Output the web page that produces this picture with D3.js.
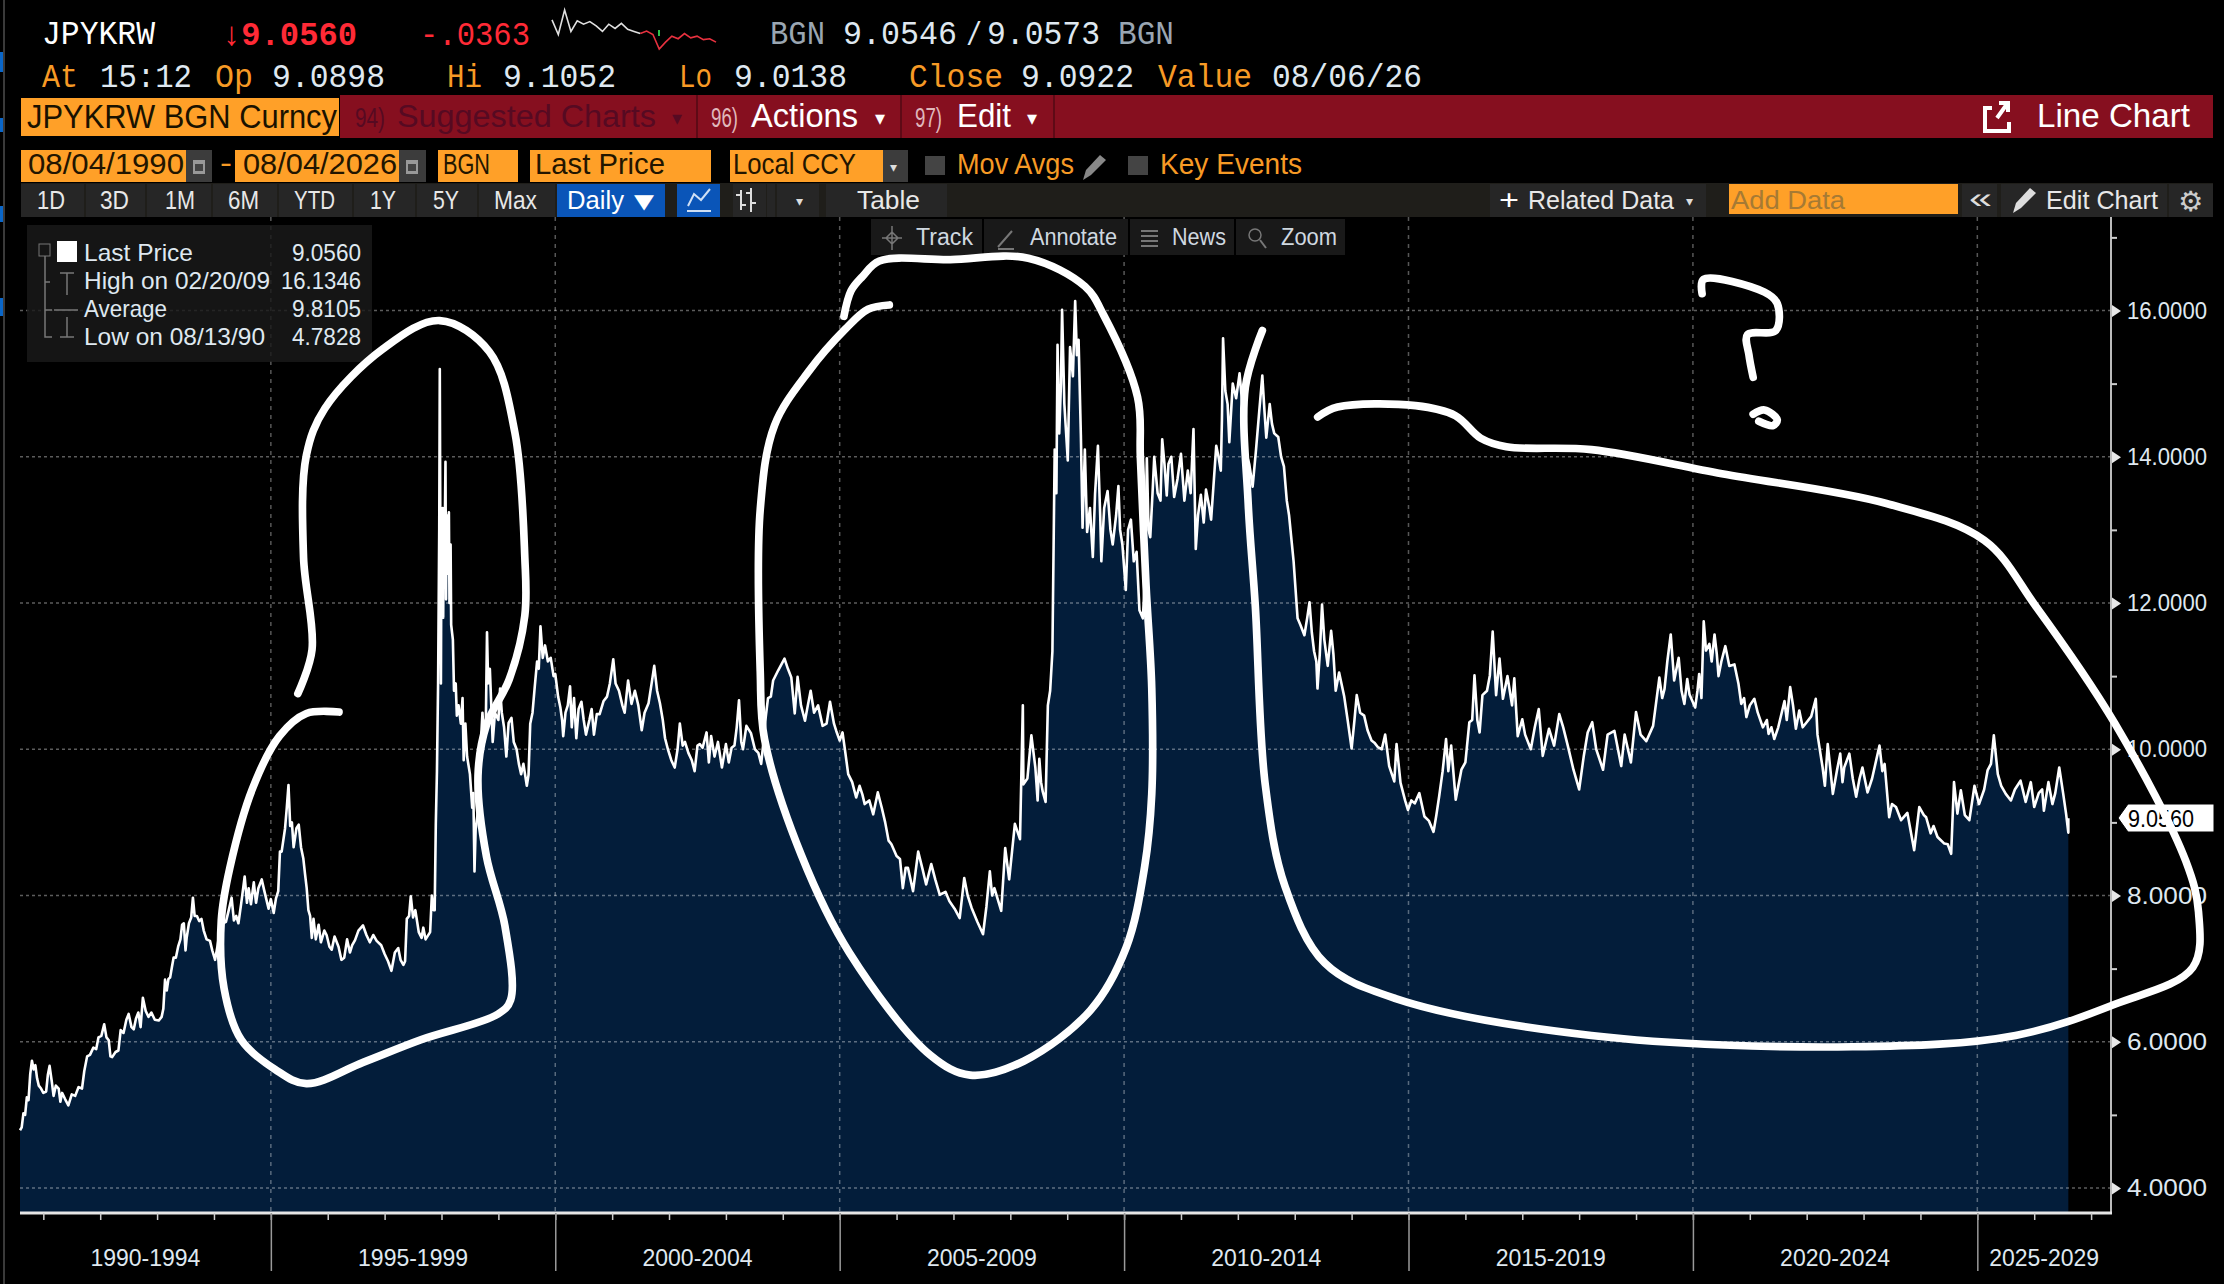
<!DOCTYPE html>
<html lang="en">
	<head>
		<meta charset="utf-8">
		<title>JPYKRW Line Chart</title>
		<style>
			html, body { margin: 0; padding: 0; background: #000; }
			svg { display: block; }
			text { white-space: pre; }
		</style>
	</head>
	<body>
		<svg id="graph" width="2224" height="1284"></svg>

		<script src="https://d3js.org/d3.v7.min.js"></script>
		<script>
			"use strict";

			// JPYKRW last price, [decimal year, rate]
			var rates1990s = [
				[1990.59,4.79],[1990.62,4.83],[1990.65,5.02],[1990.68,5.00],[1990.71,5.24],[1990.74,5.20],[1990.77,5.56],[1990.80,5.74],[1990.83,5.62],[1990.86,5.68],[1990.89,5.50],[1990.92,5.40],[1990.96,5.36],[1991.00,5.30],[1991.05,5.32],[1991.08,5.55],[1991.11,5.67],[1991.15,5.45],[1991.18,5.26],[1991.22,5.40],[1991.27,5.36],[1991.30,5.18],[1991.33,5.30],[1991.38,5.22],[1991.44,5.13],[1991.50,5.28],[1991.56,5.26],[1991.62,5.38],[1991.68,5.36],[1991.72,5.60],[1991.77,5.80],[1991.82,5.82],[1991.88,5.92],[1991.93,5.90],[1991.97,6.06],[1992.02,6.08],[1992.07,6.24],[1992.11,6.06],[1992.15,6.02],[1992.18,5.80],[1992.21,5.79],[1992.27,5.86],[1992.32,5.88],[1992.36,6.16],[1992.41,6.12],[1992.46,6.30],[1992.50,6.38],[1992.55,6.20],[1992.59,6.17],[1992.63,6.32],[1992.67,6.40],[1992.71,6.20],[1992.75,6.60],[1992.80,6.42],[1992.85,6.34],[1992.90,6.40],[1992.96,6.30],[1993.03,6.29],[1993.08,6.34],[1993.11,6.45],[1993.14,6.85],[1993.17,6.70],[1993.20,6.86],[1993.23,6.88],[1993.26,7.02],[1993.29,7.15],[1993.33,7.15],[1993.37,7.30],[1993.41,7.40],[1993.44,7.60],[1993.47,7.62],[1993.50,7.25],[1993.52,7.42],[1993.56,7.62],[1993.60,7.70],[1993.63,7.97],[1993.66,7.72],[1993.70,7.72],[1993.74,7.65],[1993.78,7.68],[1993.82,7.52],[1993.87,7.40],[1993.93,7.38],[1993.97,7.25],[1994.02,7.12],[1994.06,7.30],[1994.11,7.55],[1994.16,7.62],[1994.21,7.64],[1994.26,7.80],[1994.31,7.97],[1994.35,7.66],[1994.39,7.72],[1994.43,7.62],[1994.48,7.90],[1994.54,8.26],[1994.58,7.90],[1994.61,8.10],[1994.65,7.88],[1994.70,8.18],[1994.74,7.90],[1994.78,8.10],[1994.84,8.22],[1994.88,8.08],[1994.92,7.95],[1994.96,7.82],[1995.00,7.95],[1995.05,7.76],[1995.09,7.96],[1995.13,8.06],[1995.16,8.60],[1995.19,8.60],[1995.25,8.92],[1995.28,9.20],[1995.31,9.51],[1995.34,8.95],[1995.37,9.00],[1995.40,8.66],[1995.45,8.92],[1995.49,8.97],[1995.53,8.66],[1995.57,8.51],[1995.60,8.30],[1995.63,8.10],[1995.66,7.80],[1995.69,7.72],[1995.72,7.42],[1995.75,7.68],[1995.79,7.40],[1995.84,7.60],[1995.88,7.36],[1995.94,7.52],[1995.98,7.46],[1996.03,7.30],[1996.07,7.26],[1996.12,7.44],[1996.19,7.30],[1996.24,7.12],[1996.29,7.15],[1996.34,7.40],[1996.39,7.22],[1996.43,7.32],[1996.48,7.39],[1996.54,7.52],[1996.62,7.59],[1996.68,7.46],[1996.74,7.36],[1996.80,7.46],[1996.86,7.38],[1996.94,7.32],[1997.00,7.20],[1997.06,7.10],[1997.12,6.97],[1997.18,7.22],[1997.24,7.28],[1997.28,7.12],[1997.33,7.05],[1997.36,7.10],[1997.39,7.68],[1997.43,7.72],[1997.46,7.99],[1997.50,7.70],[1997.54,7.80],[1997.60,7.50],[1997.65,7.42],[1997.68,7.56],[1997.72,7.40],[1997.80,7.50],[1997.83,8.00],[1997.86,7.80],[1997.88,7.80],[1997.90,8.98],[1997.92,9.70],[1997.94,10.90],[1997.96,13.00],[1997.97,15.20],[1997.98,12.90],[1997.99,10.90],[1998.00,13.10],[1998.01,12.50],[1998.02,13.30],[1998.03,11.80],[1998.04,13.00],[1998.05,12.40],[1998.07,13.93],[1998.08,12.05],[1998.09,13.20],[1998.10,12.40],[1998.11,13.00],[1998.13,13.24],[1998.14,12.00],[1998.16,12.80],[1998.17,11.70],[1998.20,11.50],[1998.22,10.80],[1998.25,10.90],[1998.27,10.46],[1998.30,10.60],[1998.34,10.35],[1998.37,10.70],[1998.39,9.85],[1998.42,10.35],[1998.45,9.90],[1998.50,9.66],[1998.54,9.20],[1998.56,9.40],[1998.58,8.33],[1998.60,8.90],[1998.64,9.15],[1998.67,9.60],[1998.70,10.20],[1998.72,10.50],[1998.75,10.10],[1998.78,10.40],[1998.80,11.60],[1998.82,10.90],[1998.85,11.10],[1998.88,10.50],[1998.90,10.10],[1998.94,10.50],[1999.00,10.40],[1999.03,10.83],[1999.06,10.50],[1999.10,10.30],[1999.14,9.90],[1999.18,10.36],[1999.23,10.43],[1999.27,10.10],[1999.32,10.00],[1999.36,9.80],[1999.40,9.66],[1999.44,9.80],[1999.50,9.50],[1999.53,9.65],[1999.56,10.35],[1999.60,10.50],[1999.64,10.86],[1999.68,11.20],[1999.71,11.10],[1999.74,11.68],[1999.78,11.25],[1999.82,11.42],[1999.87,11.20],[1999.92,11.25],[1999.97,11.00]
			];
			var rates2000s = [
				[2000.00,11.03],[2000.05,10.72],[2000.09,10.57],[2000.12,10.40],[2000.14,10.18],[2000.18,10.50],[2000.22,10.60],[2000.26,10.86],[2000.29,10.30],[2000.33,10.70],[2000.37,10.15],[2000.41,10.55],[2000.46,10.65],[2000.50,10.40],[2000.54,10.20],[2000.60,10.40],[2000.64,10.55],[2000.68,10.20],[2000.73,10.48],[2000.78,10.48],[2000.85,10.66],[2000.91,10.72],[2000.96,10.90],[2001.02,11.23],[2001.06,10.90],[2001.12,10.80],[2001.18,10.60],[2001.22,10.50],[2001.28,10.94],[2001.34,10.62],[2001.40,10.80],[2001.46,10.60],[2001.52,10.26],[2001.57,10.50],[2001.64,10.63],[2001.69,10.88],[2001.74,11.14],[2001.79,10.80],[2001.84,10.63],[2001.89,10.40],[2001.93,10.15],[2001.98,10.00],[2002.04,9.85],[2002.10,9.75],[2002.15,10.00],[2002.19,10.35],[2002.24,10.05],[2002.28,10.10],[2002.34,9.95],[2002.40,9.85],[2002.45,9.70],[2002.50,10.05],[2002.54,10.07],[2002.59,10.02],[2002.66,10.23],[2002.70,9.82],[2002.74,10.18],[2002.80,9.90],[2002.86,10.10],[2002.93,9.75],[2003.00,10.07],[2003.05,9.82],[2003.10,10.02],[2003.15,10.05],[2003.19,10.30],[2003.23,10.67],[2003.27,10.10],[2003.30,10.00],[2003.36,10.32],[2003.44,10.22],[2003.51,10.00],[2003.57,9.95],[2003.62,9.80],[2003.66,10.10],[2003.70,10.44],[2003.74,10.70],[2003.79,10.72],[2003.83,10.94],[2003.92,11.08],[2004.03,11.24],[2004.09,11.10],[2004.15,10.98],[2004.21,10.49],[2004.26,10.99],[2004.32,10.60],[2004.39,10.39],[2004.44,10.60],[2004.49,10.80],[2004.55,10.50],[2004.62,10.60],[2004.70,10.32],[2004.77,10.35],[2004.83,10.65],[2004.90,10.35],[2004.94,10.25],[2005.00,10.12],[2005.05,10.23],[2005.10,9.95],[2005.15,9.66],[2005.22,9.55],[2005.29,9.34],[2005.35,9.50],[2005.40,9.38],[2005.44,9.25],[2005.52,9.30],[2005.59,9.11],[2005.67,9.41],[2005.74,9.20],[2005.80,9.00],[2005.86,8.75],[2005.91,8.70],[2006.00,8.54],[2006.06,8.50],[2006.11,8.10],[2006.16,8.38],[2006.20,8.38],[2006.29,8.06],[2006.38,8.60],[2006.46,8.35],[2006.52,8.15],[2006.61,8.43],[2006.68,8.22],[2006.76,8.01],[2006.86,8.05],[2006.93,7.92],[2007.02,7.82],[2007.11,7.69],[2007.19,8.24],[2007.25,8.00],[2007.32,7.83],[2007.42,7.64],[2007.52,7.47],[2007.58,7.85],[2007.64,8.33],[2007.68,8.00],[2007.72,8.10],[2007.84,7.79],[2007.91,8.65],[2007.98,8.22],[2008.03,8.60],[2008.08,8.98],[2008.17,8.77],[2008.22,10.60],[2008.23,9.52],[2008.30,9.60],[2008.37,10.19],[2008.44,9.75],[2008.48,9.30],[2008.51,9.87],[2008.54,9.55],[2008.57,9.42],[2008.62,9.28],[2008.66,10.60],[2008.70,10.80],[2008.74,11.34],[2008.78,14.10],[2008.81,13.50],[2008.83,15.53],[2008.86,14.32],[2008.89,15.00],[2008.91,16.01],[2008.95,14.72],[2009.01,13.95],[2009.05,15.50],[2009.10,15.10],[2009.14,16.13],[2009.17,15.39],[2009.20,15.60],[2009.24,14.30],[2009.27,13.03],[2009.31,14.10],[2009.35,12.97],[2009.40,13.30],[2009.45,12.63],[2009.49,13.50],[2009.54,14.15],[2009.58,13.20],[2009.60,12.57],[2009.65,13.30],[2009.71,13.53],[2009.76,13.00],[2009.80,12.80],[2009.86,13.20],[2009.90,13.60],[2009.93,13.00],[2009.97,12.80]
			];
			var rates2010s = [
				[2010.03,12.18],[2010.07,13.00],[2010.12,13.14],[2010.17,12.57],[2010.22,12.70],[2010.27,11.90],[2010.33,11.79],[2010.37,12.40],[2010.40,13.98],[2010.43,13.00],[2010.46,12.90],[2010.50,13.50],[2010.53,14.00],[2010.59,13.50],[2010.64,13.40],[2010.67,14.24],[2010.71,13.90],[2010.75,13.47],[2010.78,13.90],[2010.83,14.00],[2010.88,13.45],[2010.94,13.70],[2011.00,14.04],[2011.06,13.40],[2011.12,13.81],[2011.17,13.50],[2011.22,14.38],[2011.26,12.74],[2011.30,13.20],[2011.35,13.48],[2011.40,13.10],[2011.44,13.55],[2011.50,13.30],[2011.53,13.14],[2011.58,13.70],[2011.62,14.15],[2011.66,14.00],[2011.70,13.81],[2011.72,14.50],[2011.74,15.62],[2011.78,14.90],[2011.82,14.72],[2011.85,14.20],[2011.91,15.00],[2011.97,14.80],[2012.03,15.14],[2012.08,14.70],[2012.13,14.10],[2012.20,13.90],[2012.26,13.59],[2012.32,14.10],[2012.38,14.66],[2012.43,15.11],[2012.47,14.60],[2012.50,14.26],[2012.56,14.72],[2012.60,14.45],[2012.64,14.32],[2012.71,14.27],[2012.76,14.00],[2012.81,13.87],[2012.86,13.40],[2012.90,13.20],[2012.98,12.57],[2013.05,11.79],[2013.10,11.70],[2013.17,11.56],[2013.22,11.80],[2013.26,12.01],[2013.30,11.60],[2013.34,11.34],[2013.38,11.20],[2013.40,10.83],[2013.44,11.30],[2013.48,11.98],[2013.52,11.50],[2013.58,11.14],[2013.64,11.62],[2013.68,11.30],[2013.72,10.80],[2013.78,11.05],[2013.87,10.72],[2013.93,10.40],[2014.00,10.01],[2014.05,10.40],[2014.09,10.74],[2014.15,10.50],[2014.22,10.46],[2014.28,10.26],[2014.35,10.12],[2014.40,10.09],[2014.46,10.03],[2014.53,10.00],[2014.59,10.20],[2014.66,9.77],[2014.75,9.56],[2014.79,10.07],[2014.86,9.54],[2014.94,9.30],[2014.99,9.17],[2015.05,9.30],[2015.11,9.26],[2015.19,9.40],[2015.28,9.08],[2015.36,9.02],[2015.44,8.87],[2015.49,9.10],[2015.54,9.36],[2015.60,9.70],[2015.66,10.14],[2015.70,9.70],[2015.75,10.05],[2015.83,9.31],[2015.93,9.72],[2016.00,9.82],[2016.07,10.37],[2016.12,10.40],[2016.16,11.01],[2016.21,10.40],[2016.25,10.23],[2016.30,10.74],[2016.38,10.80],[2016.43,11.01],[2016.48,11.61],[2016.54,10.74],[2016.60,11.24],[2016.66,10.69],[2016.74,11.00],[2016.82,10.60],[2016.86,10.97],[2016.92,10.18],[2017.00,10.41],[2017.05,10.20],[2017.15,10.00],[2017.22,10.30],[2017.29,10.55],[2017.36,9.91],[2017.47,10.28],[2017.56,10.05],[2017.65,10.48],[2017.72,10.30],[2017.80,10.05],[2017.90,9.72],[2018.00,9.45],[2018.08,9.90],[2018.15,10.23],[2018.23,10.37],[2018.30,10.00],[2018.42,9.72],[2018.50,10.20],[2018.62,10.25],[2018.74,9.77],[2018.80,10.20],[2018.91,9.82],[2019.00,10.51],[2019.08,10.20],[2019.18,10.11],[2019.30,10.32],[2019.41,10.98],[2019.46,10.70],[2019.50,10.82],[2019.55,11.20],[2019.61,11.57],[2019.67,10.94],[2019.75,11.25],[2019.80,10.80],[2019.85,10.62],[2019.90,10.96],[2019.94,10.75]
			];
			var rates2020s = [
				[2020.04,10.57],[2020.08,10.80],[2020.11,11.03],[2020.15,10.70],[2020.19,11.75],[2020.23,11.35],[2020.29,11.44],[2020.33,11.20],[2020.38,11.57],[2020.42,11.30],[2020.45,11.00],[2020.50,11.20],[2020.57,11.41],[2020.64,11.14],[2020.73,11.16],[2020.80,10.90],[2020.85,10.62],[2020.90,10.70],[2020.94,10.44],[2021.00,10.60],[2021.08,10.69],[2021.14,10.50],[2021.23,10.30],[2021.30,10.40],[2021.33,10.21],[2021.38,10.30],[2021.43,10.14],[2021.50,10.30],[2021.61,10.66],[2021.65,10.40],[2021.71,10.85],[2021.76,10.60],[2021.81,10.28],[2021.87,10.53],[2021.93,10.30],[2022.00,10.37],[2022.08,10.45],[2022.16,10.69],[2022.19,10.20],[2022.28,9.75],[2022.32,9.50],[2022.37,10.07],[2022.42,9.70],[2022.46,9.39],[2022.53,9.70],[2022.59,9.94],[2022.63,9.55],[2022.66,9.75],[2022.75,9.94],[2022.81,9.60],[2022.87,9.35],[2022.93,9.60],[2022.98,9.75],[2023.07,9.41],[2023.15,9.60],[2023.28,10.05],[2023.33,9.70],[2023.37,9.80],[2023.45,9.07],[2023.50,9.25],[2023.57,9.21],[2023.66,9.03],[2023.77,9.13],[2023.89,8.62],[2023.98,9.21],[2024.06,9.10],[2024.10,9.07],[2024.18,8.85],[2024.23,8.95],[2024.30,8.80],[2024.42,8.71],[2024.48,8.70],[2024.54,8.57],[2024.59,9.55],[2024.65,9.12],[2024.71,9.44],[2024.78,9.10],[2024.86,9.03],[2024.95,9.50],[2025.03,9.25],[2025.12,9.45],[2025.18,9.71],[2025.24,9.80],[2025.29,10.19],[2025.36,9.66],[2025.42,9.50],[2025.50,9.39],[2025.59,9.30],[2025.66,9.45],[2025.76,9.57],[2025.85,9.28],[2025.94,9.55],[2026.00,9.21],[2026.08,9.40],[2026.14,9.45],[2026.17,9.16],[2026.25,9.55],[2026.32,9.25],[2026.37,9.40],[2026.44,9.75],[2026.51,9.39],[2026.56,9.12],[2026.60,8.86],[2026.60,9.056]
			];

			// intraday sparkline in the header
			var sparkRates = [9.082,9.048,9.105,9.055,9.080,9.072,9.078,9.068,9.055,9.072,9.062,9.074,9.060,9.055,9.050,9.056,9.048,9.014,9.030,9.044,9.038,9.050,9.040,9.044,9.036,9.038,9.030];
			var sparkSplit = 14;

			var gridYears = [1995, 2000, 2005, 2010, 2015, 2020, 2025];
			var yearTicks = d3.range(1991, 2028);
			var periodLabels = ["1990-1994", "1995-1999", "2000-2004", "2005-2009", "2010-2014", "2015-2019", "2020-2024", "2025-2029"];
			var majorTicks = [4, 6, 8, 10, 12, 14, 16];
			var minorTicks = [5, 7, 9, 11, 13, 15, 17];
			var lastPrice = 9.056;

			var svg = d3.select("#graph");
			var rates = rates1990s.concat(rates2000s, rates2010s, rates2020s);

			var plotLeft = 20, plotRight = 2111, plotTop = 217, plotBottom = 1212;
			var mono = "'Liberation Mono', monospace";
			var narrow = "'Liberation Sans Narrow', 'Liberation Sans', sans-serif";
			var orange = "#f79a25", ice = "#dfe8f0";

			var x = d3.scaleLinear().domain([1990.59, 2027.35]).range([plotLeft, plotRight]);
			var y = d3.scaleLinear().domain([4, 16]).range([1188, 310.5]);

			var area = d3.area()
				.x(function(d){ return x(d[0]); })
				.y0(plotBottom)
				.y1(function(d){ return y(d[1]); });
			var line = d3.line()
				.x(function(d){ return x(d[0]); })
				.y(function(d){ return y(d[1]); });

			svg.append("rect").attr("width", 2224).attr("height", 1284).attr("fill", "#000");

			// chart area
			svg.append("path").datum(rates).attr("d", area).attr("fill", "#031d3a");

			svg.selectAll(".hgrid").data(majorTicks).enter().append("line")
				.attr("x1", plotLeft).attr("x2", plotRight)
				.attr("y1", function(d){ return y(d); }).attr("y2", function(d){ return y(d); })
				.attr("stroke", "rgba(255,255,255,0.36)").attr("stroke-width", 1.5).attr("stroke-dasharray", "3 3");
			svg.selectAll(".vgrid").data(gridYears).enter().append("line")
				.attr("x1", function(d){ return x(d); }).attr("x2", function(d){ return x(d); })
				.attr("y1", plotTop).attr("y2", plotBottom)
				.attr("stroke", "rgba(255,255,255,0.34)").attr("stroke-width", 1.5).attr("stroke-dasharray", "4 5");

			svg.append("path").datum(rates).attr("d", line)
				.attr("fill", "none").attr("stroke", "#fff").attr("stroke-width", 2.6).attr("stroke-linejoin", "round");

			// axes
			var minorAxis = svg.append("g").attr("transform", "translate(" + plotRight + ",0)")
				.call(d3.axisRight(y).tickValues(minorTicks).tickSize(6).tickFormat(""));
			var majorAxis = svg.append("g").attr("transform", "translate(" + plotRight + ",0)")
				.call(d3.axisRight(y).tickValues(majorTicks).tickSize(0).tickPadding(16).tickFormat(d3.format(".4f")));
			majorAxis.selectAll("text").attr("fill", ice).attr("font-family", narrow).attr("font-size", 24).attr("textLength", 80).attr("lengthAdjust", "spacingAndGlyphs");
			majorAxis.selectAll(".tick").append("path").attr("d", "M1,-6L10,0L1,6Z").attr("fill", "#e8e8e8");
			majorAxis.select(".domain").remove();
			minorAxis.select(".domain").attr("d", "M0," + plotTop + "V" + plotBottom).attr("stroke", "#bbb").attr("stroke-width", 2);
			minorAxis.selectAll("line").attr("stroke", "#ccc").attr("stroke-width", 2);

			var yearAxis = svg.append("g").attr("transform", "translate(0," + (plotBottom + 1) + ")")
				.call(d3.axisBottom(x).tickValues(yearTicks).tickSize(7).tickSizeOuter(0).tickFormat(""));
			yearAxis.select(".domain").attr("stroke", "#e6e6e6").attr("stroke-width", 3).attr("d", "M" + plotLeft + ",0H" + (plotRight + 1));
			yearAxis.selectAll("line").attr("stroke", "#ccc").attr("stroke-width", 1.5);
			var panelAxis = svg.append("g").attr("transform", "translate(0," + (plotBottom + 1) + ")")
				.call(d3.axisBottom(x).tickValues(gridYears).tickSize(58).tickFormat(""));
			panelAxis.select(".domain").remove();
			panelAxis.selectAll("line").attr("stroke", "#9a9a9a").attr("stroke-width", 1.5);

			var panelEdges = [x.domain()[0]].concat(gridYears, [x.domain()[1]]);
			svg.selectAll(".period").data(periodLabels).enter().append("text")
				.attr("x", function(d, i){ return (x(panelEdges[i]) + x(panelEdges[i + 1])) / 2; })
				.attr("y", 1266).attr("text-anchor", "middle")
				.attr("font-family", narrow).attr("font-size", 24).attr("fill", ice)
				.attr("textLength", 110).attr("lengthAdjust", "spacingAndGlyphs")
				.text(function(d){ return d; });

			// last price flag
			svg.append("path").attr("d", "M2118,818L2128,804H2214V832H2128Z").attr("fill", "#fff").attr("stroke", "#000");
			svg.append("text").attr("x", 2128).attr("y", 827).attr("font-family", narrow).attr("font-size", 24).attr("fill", "#000")
				.attr("textLength", 66).attr("lengthAdjust", "spacingAndGlyphs").text(d3.format(".4f")(lastPrice));

			// terminal chrome helpers
			function box(x0, y0, x1, y1, fill) {
				return svg.append("rect").attr("x", x0).attr("y", y0).attr("width", x1 - x0).attr("height", y1 - y0).attr("fill", fill);
			}
			function label(str, x0, x1, base, fill, size, family, weight) {
				var t = svg.append("text").attr("x", x0).attr("y", base).attr("fill", fill)
					.attr("font-size", size).attr("font-family", family || narrow).text(str);
				if (weight) t.attr("font-weight", weight);
				if (x1) t.attr("textLength", x1 - x0).attr("lengthAdjust", "spacingAndGlyphs");
				return t;
			}

			// left screenshot edge
			box(3, 0, 5, 1284, "#3a3a3a");
			[[52, 72], [118, 132], [206, 222], [298, 316]].forEach(function(d){ box(0, d[0], 3, d[1], "#0a66c8"); });

			// header rows
			label("JPYKRW", 42, 155, 44, "#fff", 33, mono);
			label("↓9.0560", 222, 357, 45, "#ff2a36", 33, mono, "bold");
			label("-.0363", 420, 530, 45, "#ff2a36", 33, mono);
			label("BGN", 770, 825, 44, "#9aa6b2", 33, mono);
			label("9.0546", 843, 957, 44, ice, 33, mono);
			label("/", 966, 982, 45, ice, 33, mono);
			label("9.0573", 987, 1100, 44, ice, 33, mono);
			label("BGN", 1118, 1174, 44, "#9aa6b2", 33, mono);

			var sparkX = d3.scaleLinear().domain([0, sparkRates.length - 1]).range([552, 716]);
			var sparkY = d3.scaleLinear().domain([9.014, 9.1052]).range([49, 10]);
			var spark = d3.line().x(function(d){ return sparkX(d[0]); }).y(function(d){ return sparkY(d[1]); });
			var sparkPts = sparkRates.map(function(d, i){ return [i, d]; });
			svg.append("path").datum(sparkPts.slice(0, sparkSplit + 1)).attr("d", spark).attr("fill", "none").attr("stroke", "#e0e0e0").attr("stroke-width", 1.6);
			svg.append("path").datum(sparkPts.slice(sparkSplit)).attr("d", spark).attr("fill", "none").attr("stroke", "#e8313f").attr("stroke-width", 1.6);
			box(658, 30, 660, 36, "#2fbf4a");

			[["At", 42, 78, orange], ["15:12", 100, 192, ice], ["Op", 215, 253, orange], ["9.0898", 272, 385, ice],
				["Hi", 447, 482, orange], ["9.1052", 503, 616, ice], ["Lo", 679, 712, orange], ["9.0138", 734, 847, ice],
				["Close", 909, 1003, orange], ["9.0922", 1021, 1134, ice], ["Value", 1158, 1252, orange], ["08/06/26", 1272, 1422, ice]
			].forEach(function(d){ label(d[0], d[1], d[2], 87, d[3], 33, mono); });

			// red title bar
			box(340, 95, 2213, 138, "#860f1f");
			box(21, 98, 339, 136, "#ffa028");
			label("JPYKRW BGN Curncy", 27, 337, 128, "#1a1200", 33);
			[696, 900, 1053].forEach(function(d){ box(d, 95, d + 2, 138, "#5e0a16"); });
			label("94)", 355, 385, 127, "#560a22", 27);
			label("Suggested Charts", 397, 656, 127, "#560a22", 31);
			label("▾", 672, 0, 125, "#560a22", 20, "'DejaVu Sans'");
			label("96)", 711, 738, 127, "#e0b8bc", 27);
			label("Actions", 751, 858, 127, "#fff", 33);
			label("▾", 875, 0, 125, "#fff", 20, "'DejaVu Sans'");
			label("97)", 915, 942, 127, "#e0b8bc", 27);
			label("Edit", 957, 1011, 127, "#fff", 33);
			label("▾", 1027, 0, 125, "#fff", 20, "'DejaVu Sans'");
			svg.append("path").attr("d", "M1992,108H1985V131H2009V122M1997,118L2007,104M1999,103H2008V112")
				.attr("fill", "none").attr("stroke", "#fff").attr("stroke-width", 4);
			label("Line Chart", 2037, 2190, 127, "#fff", 33);

			// date row
			[[21, 186, "08/04/1990", 28, 184], [235, 399, "08/04/2026", 243, 397], [438, 518, "BGN", 443, 490], [530, 711, "Last Price", 535, 665], [730, 883, "Local CCY", 733, 856]].forEach(function(d){
				box(d[0], 150, d[1], 182, "#ffa028");
				label(d[2], d[3], d[4], 174, "#221500", 30);
			});
			[[186, 212], [399, 426], [883, 908]].forEach(function(d){ box(d[0], 150, d[1], 182, "#3c3c3c"); });
			[199, 412].forEach(function(d){ box(d - 6, 160, d + 6, 174, "#999"); box(d - 4, 164, d + 4, 171, "#444"); });
			label("▾", 890, 0, 172, "#ddd", 14, "'DejaVu Sans'");
			label("-", 220, 232, 173, orange, 30);
			box(925, 156, 945, 175, "#444");
			label("Mov Avgs", 957, 1074, 174, orange, 30);
			svg.append("path").attr("d", "M1083,180L1086,170L1100,155L1106,160L1091,175Z").attr("fill", "#888");
			box(1128, 156, 1148, 175, "#444");
			label("Key Events", 1160, 1302, 174, orange, 30);

			// toolbar
			box(21, 183, 2213, 217, "#1f1e1a");
			[[21, 84], [86, 145], [147, 211], [213, 277], [279, 352], [354, 415], [417, 477], [479, 555], [767, 775], [777, 819], [826, 947]].forEach(function(d){ box(d[0], 184, d[1], 217, "#262626"); });
			[["1D", 37, 65], ["3D", 100, 129], ["1M", 165, 195], ["6M", 228, 259], ["YTD", 294, 335], ["1Y", 370, 396], ["5Y", 433, 459], ["Max", 494, 537], ["Table", 857, 920]].forEach(function(d){
				label(d[0], d[1], d[2], 209, "#e8e8e8", 26);
			});
			box(557, 184, 665, 217, "#0a55b8");
			label("Daily", 567, 624, 209, "#fff", 26);
			label("▼", 634, 654, 208, "#fff", 20, "'DejaVu Sans'");
			box(677, 184, 720, 217, "#0a55b8");
			svg.append("path").attr("d", "M688,206L694,194L701,200L710,189M687,211H711").attr("fill", "none").attr("stroke", "#cfe0f5").attr("stroke-width", 2);
			box(733, 184, 766, 217, "#262626");
			svg.append("path").attr("d", "M741,190V210M741,195H736M741,205H746M751,188V212M751,193H746M751,203H756").attr("fill", "none").attr("stroke", "#ddd").attr("stroke-width", 2);
			label("▾", 796, 0, 206, "#ddd", 14, "'DejaVu Sans'");

			box(1490, 184, 1706, 217, "#262626");
			label("+", 1499, 1519, 209, "#fff", 28);
			label("Related Data", 1528, 1674, 209, "#e8e8e8", 26);
			label("▾", 1686, 0, 206, "#ddd", 14, "'DejaVu Sans'");
			box(1729, 184, 1958, 214, "#ffa028");
			label("Add Data", 1731, 1845, 209, "#a67a34", 26);
			box(1962, 184, 1997, 217, "#262626");
			label("«", 1969, 1992, 208, "#ddd", 30);
			box(2001, 184, 2167, 217, "#262626");
			svg.append("path").attr("d", "M2013,213L2016,203L2030,188L2036,193L2021,208Z").attr("fill", "#ddd");
			label("Edit Chart", 2046, 2158, 209, "#e8e8e8", 26);
			box(2169, 184, 2213, 217, "#262626");
			label("⚙", 2178, 0, 211, "#ccc", 28, "'DejaVu Sans'");

			// chart tool strip
			box(871, 219, 1345, 255, "#191919");
			[982, 1128, 1234].forEach(function(d){ box(d, 219, d + 2, 255, "#000"); });
			[["Track", 916, 973], ["Annotate", 1030, 1117], ["News", 1172, 1226], ["Zoom", 1281, 1337]].forEach(function(d){
				label(d[0], d[1], d[2], 245, "#cfd8e0", 23);
			});
			svg.append("path").attr("d", "M892,226V250M882,238H902M886,238L892,232L898,238L892,244Z").attr("fill", "none").attr("stroke", "#777").attr("stroke-width", 1.5);
			svg.append("path").attr("d", "M998,247L1012,231M998,249H1014").attr("fill", "none").attr("stroke", "#777").attr("stroke-width", 2);
			svg.append("path").attr("d", "M1141,231H1158M1141,236H1158M1141,241H1158M1141,246H1158").attr("fill", "none").attr("stroke", "#777").attr("stroke-width", 2);
			svg.append("circle").attr("cx", 1255).attr("cy", 235).attr("r", 6).attr("fill", "none").attr("stroke", "#777").attr("stroke-width", 1.5);
			svg.append("path").attr("d", "M1260,240L1266,248").attr("stroke", "#777").attr("stroke-width", 2);

			// legend
			box(27, 225, 372, 362, "rgba(26,26,26,0.82)");
			box(57, 241, 77, 262, "#fff");
			svg.append("rect").attr("x", 39).attr("y", 244).attr("width", 11).attr("height", 12).attr("fill", "none").attr("stroke", "#777");
			svg.append("path").attr("d", "M45,256V337H52M45,282H50M45,310H52M60,273H74M67,273V295M54,310H78M60,337H74M67,337V317")
				.attr("fill", "none").attr("stroke", "#777").attr("stroke-width", 1.5);
			[["Last Price", 84, 193, 261, "9.0560", 292], ["High on 02/20/09", 84, 270, 289, "16.1346", 281], ["Average", 84, 167, 317, "9.8105", 292], ["Low on 08/13/90", 84, 265, 345, "4.7828", 292]].forEach(function(d){
				label(d[0], d[1], d[2], d[3], ice, 24);
				label(d[4], d[5], 361, d[3], ice, 24);
			});

			// hand drawn marker scribbles, in screenshot pixels before the 1.4184 upscale
			var scribbleLeft = [[210,489],[220,458],[214,393],[216,321],[229,288],[270,246],[310,226],[345,248],[363,305],[370,393],[370,434],[359,479],[343,511],[337,547],[343,604],[356,653],[360,705],[351,715],[297,733],[256,749],[216,764],[194,754],[170,733],[158,697],[156,649],[162,612],[178,556],[197,519],[216,503],[239,502]];
			var scribbleMiddle = [[595,223],[600,205],[608,195],[620,184],[670,183],[725,182],[765,202],[778,222],[802,280],[804,323],[808,413],[812,485],[812,560],[807,611],[794,668],[769,712],[722,748],[684,758],[656,744],[599,672],[565,603],[539,521],[536,474],[536,359],[546,300],[570,262],[596,232],[612,218],[627,215]];
			var scribbleRight = [[890,233],[878,273],[880,355],[885,427],[892,553],[906,625],[934,679],[984,704],[1122,730],[1306,738],[1421,730],[1491,708],[1546,682],[1550,643],[1541,607],[1491,510],[1435,427],[1399,381],[1330,355],[1214,334],[1122,317],[1062,315],[1044,309],[1026,293],[998,286],[943,287],[929,294]];
			var scribbleQuestion = [[1200,207],[1201,197],[1244,206],[1253,214],[1252,233],[1232,236],[1233,250],[1236,266]];
			var scribbleDot = [[1236,292],[1244,289],[1253,296],[1250,300],[1240,297]];

			var pen = d3.line().curve(d3.curveCatmullRom.alpha(0.5));
			svg.append("g").attr("transform", "scale(1.4184)")
				.selectAll("path").data([scribbleLeft, scribbleMiddle, scribbleRight, scribbleQuestion, scribbleDot]).enter().append("path")
				.attr("d", pen).attr("fill", "none").attr("stroke", "#fff").attr("stroke-width", 5.4)
				.attr("stroke-linecap", "round").attr("stroke-linejoin", "round");
		</script>
	</body>
</html>
